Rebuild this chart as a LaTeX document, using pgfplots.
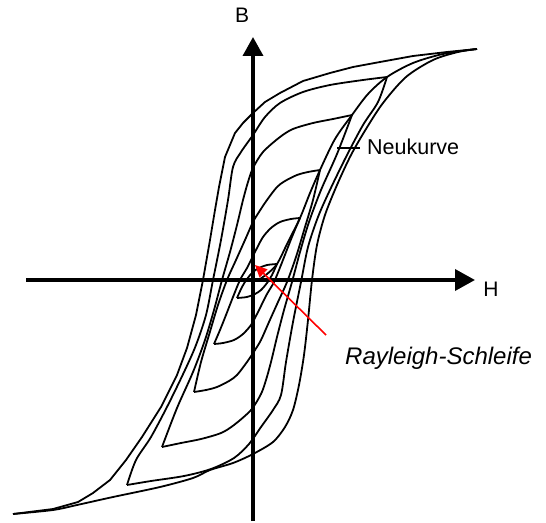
\documentclass[border=0pt]{standalone}
\usepackage{pgfplots}
\pgfplotsset{compat=1.18}
\usepackage{fontspec}
\setmainfont{Liberation Sans}
\usetikzlibrary{arrows.meta}

\begin{document}
\begin{tikzpicture}
\begin{axis}[
  width=546bp, height=521bp, scale only axis,
  xmin=-253, xmax=293, ymin=-241, ymax=280,
  hide axis, clip=false,
]
% frame of the picture
\path (rel axis cs:0,0) rectangle (rel axis cs:1,1);

% axes
\addplot[black, line width=3.6pt, mark=none, -{Triangle[length=20bp,width=21bp]}]
  coordinates {(-227,0) (222,0)};
\addplot[black, line width=3.6pt, mark=none, -{Triangle[length=19bp,width=20bp]}]
  coordinates {(0,-241) (0,243)};

% major loop, descending (polyline) and ascending branch (smooth)
\addplot[black, line width=1.8pt, mark=none, line join=round] coordinates {(224,231) (194,228) (160,224) (127,218) (100,213) (77,207) (50,199) (27,187) (12,178) (0,167) (-10,157) (-18,147) (-28,123) (-34,93) (-38,70) (-43,40) (-50,0) (-57,-35) (-66,-68) (-76,-95) (-92,-127) (-111,-157) (-127,-180) (-143,-200) (-160,-213) (-175,-222) (-200,-229) (-240,-234)};
\addplot[black, line width=1.8pt, mark=none, smooth] coordinates {(-240,-234) (-200,-230) (-176,-225) (-140,-217) (-93,-207) (-60,-198) (-43,-190) (-20,-183) (0,-174) (20,-162) (32,-147) (40,-130) (46,-105) (51,-75) (55,-40) (59,0) (64,35) (72,65) (84,95) (98,125) (113,151) (130,177) (153,203) (180,220) (205,228) (224,231)};

% second loop
\addplot[black, line width=1.8pt, mark=none, smooth] coordinates {(134,203) (110,200) (77,195) (50,188) (27,177) (12,163) (0,145) (-12,128) (-20,113) (-25,80) (-32,40) (-40,0) (-47,-35) (-57,-65) (-68,-90) (-85,-125) (-102,-157) (-117,-180) (-126,-205)};
\addplot[black, line width=1.8pt, mark=none, smooth] coordinates {(-126,-205) (-102,-201) (-69,-196) (-42,-189) (-19,-178) (-4,-164) (8,-147) (20,-130) (28,-115) (33,-82) (40,-42) (48,-2) (55,33) (65,63) (76,88) (93,123) (110,155) (125,178) (134,203)};

% third loop
\addplot[black, line width=1.8pt, mark=none, smooth] coordinates {(99,165) (80,161) (60,157) (40,151) (27,143) (10,128) (0,112) (-5,98) (-10,80) (-16,55) (-23,28) (-31,0) (-39,-30) (-48,-60) (-60,-92) (-76,-128) (-91,-167)};
\addplot[black, line width=1.8pt, mark=none, smooth] coordinates {(-91,-167) (-72,-163) (-52,-159) (-32,-153) (-19,-145) (-2,-130) (8,-114) (13,-100) (18,-82) (24,-57) (31,-30) (39,-2) (47,28) (56,58) (68,90) (84,126) (99,165)};

% fourth loop
\addplot[black, line width=1.8pt, mark=none, smooth] coordinates {(67,110) (55,108) (44,105) (32,99) (24,93) (14,80) (6,68) (0,58) (-8,40) (-17,20) (-26,0) (-35,-25) (-44,-55) (-52,-82) (-59,-112)};
\addplot[black, line width=1.8pt, mark=none, smooth] coordinates {(-59,-112) (-47,-110) (-36,-107) (-24,-101) (-16,-95) (-6,-82) (2,-70) (8,-60) (16,-42) (25,-22) (34,-2) (43,23) (52,53) (60,80) (67,110)};

% fifth loop
\addplot[black, line width=1.8pt, mark=none, smooth] coordinates {(47,62) (38,61) (27,58) (18,52) (10,43) (4,32) (0,24) (-6,12) (-13,0) (-20,-17) (-27,-35) (-33,-50) (-39,-64)};
\addplot[black, line width=1.8pt, mark=none, smooth] coordinates {(-39,-64) (-30,-63) (-19,-60) (-10,-54) (-2,-45) (4,-34) (8,-26) (14,-14) (21,-2) (28,15) (35,33) (41,48) (47,62)};

% Rayleigh loop
\addplot[black, line width=1.8pt, mark=none, smooth] coordinates {(24,16) (14,15) (6,12) (0,8) (-6,1) (-11,-7) (-16,-18)};
\addplot[black, line width=1.8pt, mark=none, smooth] coordinates {(-16,-18) (-6,-17) (2,-14) (8,-10) (14,-3) (19,5) (24,16)};

% initial magnetisation curve (Neukurve)
\addplot[black, line width=1.8pt, mark=none, smooth] coordinates {(4,-1) (14,6) (24,16) (35,38) (47,62) (57,87) (67,110) (82,141) (99,165) (115,186) (134,203) (160,217) (190,226) (224,231)};

% leader and labels
\addplot[black, line width=1.2pt, mark=none] coordinates {(84,132) (107,132)};
\node[font=\fontsize{21bp}{25bp}\selectfont] at (axis cs:-11,264.5) {B};
\node[font=\fontsize{21bp}{25bp}\selectfont] at (axis cs:238,-9) {H};
\node[anchor=base west, inner sep=0pt, font=\fontsize{21.5bp}{25bp}\selectfont] at (axis cs:114,126) {Neukurve};

\addplot[red, line width=1.6pt, mark=none, -{Triangle[length=12bp,width=11bp]}]
  coordinates {(73,-55) (2,15)};
\node[anchor=base west, inner sep=0pt, font=\fontsize{24bp}{28bp}\selectfont\itshape] at (axis cs:92,-84) {Rayleigh-Schleife};
\end{axis}
\end{tikzpicture}
\end{document}
